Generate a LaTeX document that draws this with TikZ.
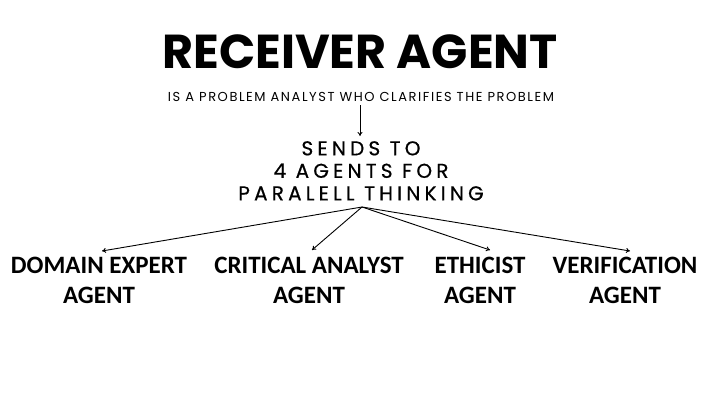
\documentclass[tikz,border=0pt]{standalone}
\usepackage{fontspec}
\setmainfont{Poppins}
\newfontfamily\agentfont{Carlito}
\usepackage{tikz}
\usetikzlibrary{arrows.meta,positioning}

\tikzset{
  titletext/.style={font=\fontsize{47.6}{54}\selectfont\bfseries, inner sep=0pt},
  roletext/.style={font=\fontsize{13}{15}\selectfont\addfontfeature{LetterSpace=12}, inner sep=0pt},
  sendtext/.style={font=\fontsize{20}{22.5}\selectfont\addfontfeature{LetterSpace=21,FakeBold=0.6}, align=center, inner sep=0pt},
  agenttext/.style={font=\agentfont\bfseries\fontsize{25}{30}\selectfont, align=center, inner sep=1pt},
  flow/.style={-{To[length=4pt,width=5pt]}, line width=0.9pt}
}

\begin{document}
\begin{tikzpicture}[x=1pt,y=-1pt]
  \useasboundingbox[fill=white] (0,0) rectangle (720,402);

  % Heading
  \node[titletext] (title) at (360,51.5) {RECEIVER AGENT};
  \node[roletext] (role) at (361,96.5) {IS A PROBLEM ANALYST WHO CLARIFIES THE PROBLEM};

  % Middle step
  \node[sendtext, anchor=north] (sends) at (361,141) {SENDS TO\\4 AGENTS FOR\\PARALELL THINKING};

  % Agents
  \node[agenttext, anchor=north] (domain) at (99,256) {DOMAIN EXPERT\\AGENT};
  \node[agenttext, anchor=north] (critical) at (309,256) {CRITICAL ANALYST\\AGENT};
  \node[agenttext, anchor=north] (ethicist) at (480,256) {ETHICIST\\AGENT};
  \node[agenttext, anchor=north] (verify) at (625,256) {VERIFICATION\\AGENT};

  % Arrows
  \coordinate (hub) at (362,207);
  \draw[flow] ([xshift=-1pt,yshift=-4pt]role.south) -- ([xshift=-1pt,yshift=5pt]sends.north);
  \draw[flow] (hub) -- ([xshift=3pt,yshift=5pt]domain.north);
  \draw[flow] (hub) -- ([xshift=3pt,yshift=6pt]critical.north);
  \draw[flow] (hub) -- ([xshift=10pt,yshift=6pt]ethicist.north);
  \draw[flow] (hub) -- ([xshift=5pt,yshift=5pt]verify.north);
\end{tikzpicture}
\end{document}
